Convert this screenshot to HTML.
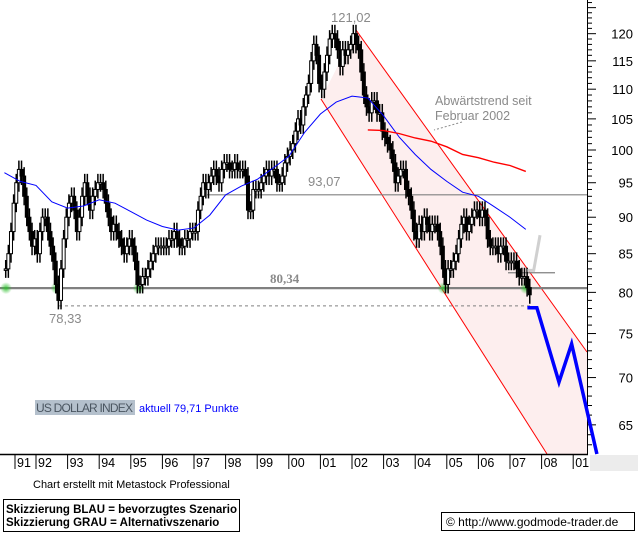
<!DOCTYPE html>
<html><head><meta charset="utf-8"><style>
html,body{margin:0;padding:0;background:#fff;}
svg{display:block;font-family:"Liberation Sans",sans-serif;}
</style></head><body>
<svg id="chart" width="638" height="539" viewBox="0 0 638 539" xmlns="http://www.w3.org/2000/svg">
<defs>
<radialGradient id="glow"><stop offset="0" stop-color="#2fc02f" stop-opacity="0.9"/><stop offset="1" stop-color="#2fc02f" stop-opacity="0"/></radialGradient>
</defs>
<g id="channel"></g>
<g id="levels"></g>
<g id="bars"></g>
<g id="mas"></g>
<g id="axes"></g>
<g id="scen"></g>
<g id="labels">
  <text x="331" y="22" font-size="13" fill="#8a8a8a">121,02</text>
  <text x="308" y="186" font-size="13" fill="#8a8a8a">93,07</text>
  <text x="270" y="283" font-size="13" font-weight="bold" fill="#8a8a8a" font-family="Liberation Serif,serif">80,34</text>
  <text x="49" y="323" font-size="13" fill="#8a8a8a">78,33</text>
  <text x="435" y="105" font-size="12.5" fill="#8a8a8a">Abwärtstrend seit</text>
  <text x="435" y="120" font-size="12.5" fill="#8a8a8a">Februar 2002</text>
  <line x1="462" y1="122" x2="434" y2="130" stroke="#8a8a8a" stroke-dasharray="2,2"/>
  <rect x="35" y="400" width="100" height="15" fill="#b4c0cc"/>
  <text x="36" y="412" font-size="12" fill="#4a5560" textLength="97">US DOLLAR INDEX</text>
  <text x="139" y="412" font-size="11" fill="#0000ff">aktuell 79,71 Punkte</text>
  <text x="33" y="488" font-size="11" fill="#000">Chart erstellt mit Metastock Professional</text>
  <rect x="3.5" y="499.5" width="236" height="32" fill="#fff" stroke="#000"/>
  <text x="6" y="513" font-size="11.5" font-weight="bold">Skizzierung BLAU = bevorzugtes Szenario</text>
  <text x="6" y="526" font-size="11.5" font-weight="bold">Skizzierung GRAU = Alternativszenario</text>
  <rect x="441.5" y="512.5" width="193" height="18" fill="#fff" stroke="#000"/>
  <text x="446" y="526" font-size="12">© http://www.godmode-trader.de</text>
</g>
</svg>
<script>
// monthly closes Jan 1991 .. Jul 2007
const years = [1991,1992,1993,1994,1995,1996,1997,1998,1999,2000,2001,2002,2003,2004,2005,2006,2007];
const closes1991 = [83,85,88,92,95,97,96,93,90,88,86,87];
const closes1992 = [85,88,90,90,88,86,84,81,79,83,87,90];
const closes1993 = [92,93,91,88,90,93,95,93,91,93,94,95];
const closes1994 = [95,94,92,90,88,89,88,87,86,85,86,87];
const closes1995 = [86,84,81,81,82,82,83,84,85,86,86,86];
const closes1996 = [86,86,87,87,88,87,86,86,87,87,88,88];
const closes1997 = [88,91,93,95,94,95,96,97,96,95,97,98];
const closes1998 = [98,97,97,98,97,97,97,96,91,91,94,94];
const closes1999 = [94,95,96,97,96,97,97,95,95,96,98,99];
const closes2000 = [100,101,103,105,104,107,109,111,115,118,116,111];
const closes2001 = [110,113,116,119,120,119,117,114,117,116,117,118];
const closes2002 = [120,118,117,113,109,107,106,108,108,106,106,103];
const closes2003 = [102,101,100,98,95,96,97,97,94,93,91,88];
const closes2004 = [87,89,88,90,89,88,89,89,88,86,83,81];
const closes2005 = [83,83,84,85,87,89,90,88,89,90,91,91];
const closes2006 = [90,91,90,87,86,86,86,85,86,86,84,84];
const closes2007 = [84,84,83,82,82,82,80.6,79.7];
// blue MA, half-year steps from 1991.0
const blueMA = [96.5,95.2,94.6,92.2,91.3,91.6,92.5,92.0,90.8,89.6,88.7,88.2,88.5,90.3,93.2,94.5,95.5,97.2,99,102.8,105.8,107.8,108.8,108.5,105.5,102,99.3,97,95.2,93.6,93,91.5,90,88.3];
// red MA, half-year steps from 2002.5
const redMA = [103.2,103.1,102.6,101.9,101.4,100.5,99.3,98.8,98.1,97.6,96.7];
const levels = [93.07,80.34,78.33,82.5];
const yTicks = [120,115,110,105,100,95,90,85,80,75,70,65];
const yearLabels = ["91","92","93","94","95","96","97","98","99","00","01","02","03","04","05","06","07","08","01"];
// scenario paths: [time, value]
const blueScenT = [2007.55,2007.85,2008.55,2008.95,2009.75];
const blueScenV = [78.1,78.1,69.5,73.8,62.1];
const grayScenT = [2007.55,2007.75,2007.95];
const grayScenV = [82.8,82.8,87.5];
const supportT = [1991.05,1992.65,1995.25,2004.9,2007.5];

const NS="http://www.w3.org/2000/svg";
const xT = t => 4.4 + 31.6*(t-1991);
const yV = v => 150 - 638*Math.log(v/100);
const AX = 454;
function mk(parent,tag,attrs){const e=document.createElementNS(NS,tag);for(const k in attrs)e.setAttribute(k,attrs[k]);document.getElementById(parent).appendChild(e);return e;}

// channel
const ch = mk('channel','polygon',{points:"321,99 356,30 587,352 587,454 547,454",fill:"#fdeeee"});


const cu = mk('channel','line',{x1:356,y1:30,x2:587,y2:352,stroke:"#ff0000","stroke-width":1});


const cl = mk('channel','line',{x1:321,y1:99,x2:547,y2:454,stroke:"#ff0000","stroke-width":1});



// levels
const l1 = mk('levels','line',{x1:207,x2:587,y1:yV(levels[0])-1,y2:yV(levels[0])-1,stroke:"#808080","stroke-width":1.2});


const l2 = mk('levels','line',{x1:0,x2:587,y1:yV(levels[1])-1.5,y2:yV(levels[1])-1.5,stroke:"#808080","stroke-width":2.2});


const l3 = mk('levels','line',{x1:59,x2:530,y1:yV(levels[2]),y2:yV(levels[2]),stroke:"#808080","stroke-dasharray":"3,3"});


const l4 = mk('levels','line',{x1:508,x2:555,y1:yV(levels[3]),y2:yV(levels[3]),stroke:"#808080","stroke-width":1.2});


supportT.forEach(t=>{
  const g = mk('levels','circle',{cx:xT(t),cy:yV(levels[1])-1.5,r:6,fill:"url(#glow)"});
  
  
});

// price bars
const all = [closes1991,closes1992,closes1993,closes1994,closes1995,closes1996,closes1997,closes1998,closes1999,closes2000,closes2001,closes2002,closes2003,closes2004,closes2005,closes2006,closes2007];
let prev = null;
all.forEach((arr,yi)=>{arr.forEach((c,m)=>{
  const o = prev===null? c : prev; prev=c;
  const t = years[yi] + (m+0.5)/12;
  const x = xT(t);
  const hi = Math.max(o,c)*1.014, lo = Math.min(o,c)*0.986;
  const w = mk('bars','line',{x1:x,x2:x,y1:yV(hi),y2:yV(lo),stroke:"#000","stroke-width":1.5});
  
  
  const top=yV(Math.max(o,c)), bot=yV(Math.min(o,c));
  const b = mk('bars','rect',{x:x-1.5,y:top,width:3,height:Math.max(1.5,bot-top),fill:c<o?"#000":"#fff",stroke:"#000","stroke-width":1});
  
  
});});

// moving averages
const bp = blueMA.map((v,i)=>xT(1991+i*0.5)+","+yV(v)).join(" ");
const bl = mk('mas','polyline',{points:bp,fill:"none",stroke:"#0000ff","stroke-width":1});


const rp = redMA.map((v,i)=>xT(2002.5+i*0.5)+","+yV(v)).join(" ");
const rl = mk('mas','polyline',{points:rp,fill:"none",stroke:"#ff0000","stroke-width":1.4});



// axes
const cover = mk('axes','rect',{x:588,y:0,width:50,height:AX,fill:"#fff"});


const cover2 = mk('axes','rect',{x:0,y:AX+1,width:638,height:20,fill:"#fff"});


const gb = mk('axes','rect',{x:590,y:AX+1,width:48,height:16,fill:"#ececec"});


const ya = mk('axes','line',{x1:587.5,x2:587.5,y1:0,y2:AX,stroke:"#000"});


const xa = mk('axes','line',{x1:0,x2:588,y1:AX+0.5,y2:AX+0.5,stroke:"#000","stroke-width":1.5});


for(let v=61; v<=126; v++){
  const y=yV(v); if(y<0||y>AX) continue;
  const tk = mk('axes','line',{x1:587,x2:v%5===0?596:592,y1:y,y2:y,stroke:"#000"});
  
  
}
yTicks.forEach(v=>{
  const t = mk('axes','text',{x:633,y:yV(v)+5,"font-size":13,"text-anchor":"end",fill:"#000"});
  t.textContent=v;
  
  
});
yearLabels.forEach((s,i)=>{
  const x = i===0 ? 15 : xT(1991+i);
  const tl = mk('axes','line',{x1:x,x2:x,y1:AX+1,y2:AX+15,stroke:"#000"});
  
  
  const t = mk('axes','text',{x:x+2,y:AX+13,"font-size":12.5,fill:"#000"});
  t.textContent=s;
  
  
});

// scenarios (drawn over the axis)
const gp = grayScenT.map((t,i)=>xT(t)+","+yV(grayScenV[i])).join(" ");
const gs = mk('scen','polyline',{points:gp,fill:"none",stroke:"#d0d0d0","stroke-width":3});


const sp = blueScenT.map((t,i)=>xT(t)+","+yV(blueScenV[i])).join(" ");
const bs = mk('scen','polyline',{points:sp,fill:"none",stroke:"#0000ff","stroke-width":3.5});


</script>
</body></html>
